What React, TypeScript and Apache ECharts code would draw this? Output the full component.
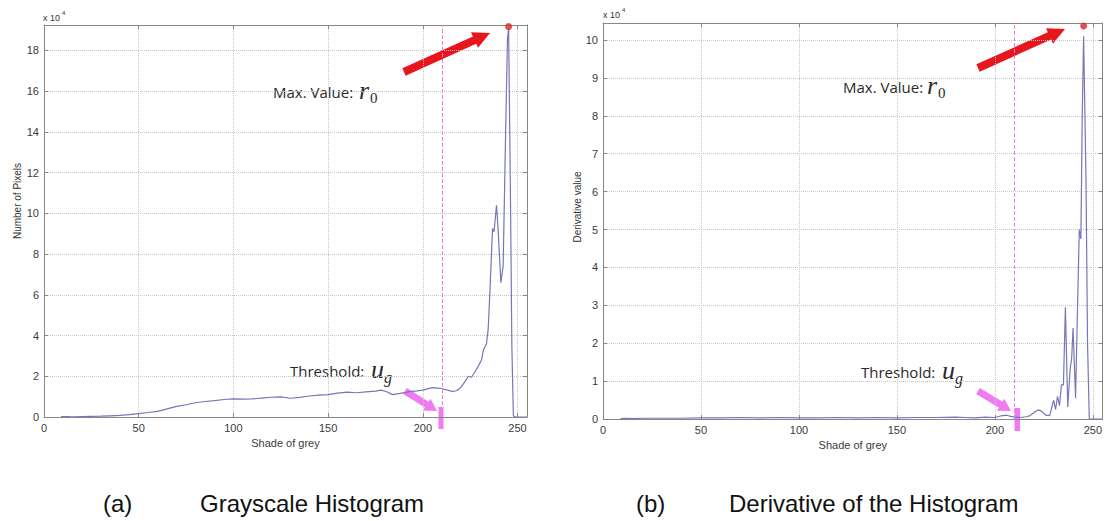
import React, { useEffect, useRef } from "react";
import * as echarts from "echarts";

// ---------- data (y values in units of 10^4) ----------
const histShade = [9, 10, 13, 14, 16, 20, 25, 30, 35, 40, 45, 50, 55, 60, 65, 70, 75, 80, 85, 90, 95, 100, 105, 110, 115, 120, 125, 130, 135, 140, 145, 150, 155, 160, 165, 170, 175, 178, 181, 184, 188, 193, 197, 200, 205, 208, 210, 213, 216, 218, 220, 222, 224, 225.7, 227, 229, 231, 232, 233.6, 234.5, 235.4, 236.8, 237.6, 238.9, 239.7, 241.2, 242.4, 243.6, 244.7, 245.3, 246.3, 247, 247.8, 249, 255];
const histCount = [0.02, 0.02, 0.02, 0.01, 0.01, 0.02, 0.03, 0.04, 0.06, 0.08, 0.12, 0.17, 0.22, 0.28, 0.4, 0.52, 0.6, 0.7, 0.76, 0.8, 0.86, 0.89, 0.88, 0.89, 0.93, 0.97, 0.99, 0.92, 0.96, 1.03, 1.07, 1.1, 1.17, 1.22, 1.19, 1.23, 1.27, 1.32, 1.24, 1.1, 1.16, 1.25, 1.28, 1.32, 1.44, 1.42, 1.4, 1.32, 1.25, 1.3, 1.45, 1.7, 2.0, 1.95, 2.15, 2.45, 2.8, 3.3, 3.6, 4.3, 6.1, 9.26, 9.1, 10.4, 9.3, 6.6, 7.4, 13.4, 18.6, 19.07, 10.5, 3.5, 0.05, 0, 0];

const derivShade = [9, 12, 15, 20, 30, 40, 50, 60, 70, 80, 90, 100, 110, 120, 130, 140, 150, 160, 170, 180, 185, 190, 195, 200, 203, 206, 208, 210, 213, 216, 218, 220, 222, 224, 226, 228, 229, 230, 231, 232, 233, 234, 235, 236, 237.2, 238.4, 239.2, 239.9, 241.2, 242, 243.1, 243.9, 244.6, 245.3, 246.5, 247.3, 248.2, 255];
const derivValue = [0.01, 0.02, 0.01, 0.02, 0.02, 0.02, 0.03, 0.03, 0.04, 0.03, 0.04, 0.03, 0.03, 0.04, 0.03, 0.04, 0.03, 0.04, 0.04, 0.05, 0.04, 0.03, 0.05, 0.04, 0.08, 0.1, 0.07, 0.05, 0.04, 0.06, 0.09, 0.17, 0.24, 0.2, 0.1, 0.09, 0.3, 0.5, 0.25, 0.6, 0.35, 0.9, 0.9, 2.95, 0.32, 1.3, 1.6, 2.4, 0.55, 2.5, 5.0, 4.75, 8.0, 10.1, 6.4, 2.0, 0, 0];

const histMax = [245.3, 19.17];
const derivMax = [245.3, 10.37];
const threshold = 210;

const xTickInterval = 50;
const histYInterval = 2;
const derivYInterval = 1;

const SANS = "'Liberation Sans', Arial, sans-serif";
const NOTE = "'Open Sans', 'Noto Sans', sans-serif";
const MATH = "'Liberation Serif', 'DejaVu Serif', serif";

const LINE_COLOR = "#7676b8";
const BORDER = "#878787";
const PINK = "#f07af0";
const RED = "#e8161c";

function zip(a: number[], b: number[]) {
  return a.map((v, i) => [v, b[i]]);
}

function arrowPts(tx: number, ty: number, hx: number, hy: number, sw: number, hw: number, hl: number) {
  const dx = hx - tx, dy = hy - ty;
  const L = Math.hypot(dx, dy);
  const ux = dx / L, uy = dy / L;
  const nx = -uy, ny = ux;
  const bx = hx - ux * hl, by = hy - uy * hl;
  return [
    [tx + (nx * sw) / 2, ty + (ny * sw) / 2],
    [bx + (nx * sw) / 2, by + (ny * sw) / 2],
    [bx + (nx * hw) / 2, by + (ny * hw) / 2],
    [hx, hy],
    [bx - (nx * hw) / 2, by - (ny * hw) / 2],
    [bx - (nx * sw) / 2, by - (ny * sw) / 2],
    [tx - (nx * sw) / 2, ty - (ny * sw) / 2],
  ];
}

function txt(x: number, y: number, text: string, fontSize: number, fontFamily: string, extra: any = {}) {
  return {
    type: "text",
    x,
    y,
    silent: true,
    ...(extra.rotation !== undefined ? { rotation: extra.rotation } : {}),
    style: {
      text,
      fontSize,
      fontFamily,
      fontStyle: extra.italic ? "italic" : "normal",
      fill: extra.fill || "#333",
      align: extra.align || "left",
      verticalAlign: "middle",
    },
  };
}

function makeAxes(gridIndex: number, yMax: number, yInt: number) {
  const axisLine = { show: true, onZero: false, lineStyle: { color: BORDER, width: 1 } };
  const tick = { show: true, inside: true, length: 4, lineStyle: { color: BORDER } };
  const split = { show: true, lineStyle: { type: "dotted", color: "#c6c6c6", width: 1 } };
  const label = { color: "#3a3a3a", fontSize: 11, fontFamily: SANS, margin: 5, showMaxLabel: false };
  const x = [
    {
      type: "value", gridIndex, min: 0, max: 255, interval: xTickInterval, position: "bottom",
      name: "Shade of grey", nameLocation: "middle", nameGap: 18,
      nameTextStyle: { color: "#3a3a3a", fontSize: 11, fontFamily: SANS },
      axisLine, axisTick: tick, axisLabel: label, splitLine: split,
    },
    {
      type: "value", gridIndex, min: 0, max: 255, interval: xTickInterval, position: "top",
      axisLine, axisTick: tick, axisLabel: { show: false }, splitLine: { show: false },
    },
  ];
  const y = [
    {
      type: "value", gridIndex, min: 0, max: yMax, interval: yInt, position: "left",
      axisLine, axisTick: tick, axisLabel: label, splitLine: split,
    },
    {
      type: "value", gridIndex, min: 0, max: yMax, interval: yInt, position: "right",
      axisLine, axisTick: tick, axisLabel: { show: false }, splitLine: { show: false },
    },
  ];
  return { x, y };
}

export default function App() {
  const ref = useRef<HTMLDivElement>(null);
  useEffect(() => {
    document.body.style.margin = "0";
    if (!ref.current) return;
    const chart = echarts.init(ref.current, undefined, { renderer: "svg" });
    const a = makeAxes(0, 19.25, histYInterval);
    const b = makeAxes(1, 10.45, derivYInterval);

    const thresholdLine = {
      silent: true,
      symbol: "none",
      label: { show: false },
      lineStyle: { color: PINK, type: "dashed", width: 1 },
      data: [{ xAxis: threshold }],
    };

    const ink = "#2a2a2a";
    const graphic: any[] = [
      // y axis names
      txt(17, 201, "Number of Pixels", 10, SANS, { align: "center", rotation: Math.PI / 2 }),
      txt(577, 207, "Derivative value", 10, SANS, { align: "center", rotation: Math.PI / 2 }),
      // exponent labels
      txt(43, 18, "x 10", 9, SANS),
      txt(62, 13, "4", 6, SANS),
      txt(603, 15, "x 10", 9, SANS),
      txt(622, 10, "4", 6, SANS),
      // left annotations
      txt(273, 92, "Max. Value:", 15, NOTE, { fill: ink }),
      txt(359, 90, "r", 26, MATH, { italic: true, fill: ink }),
      txt(370, 98, "0", 15, MATH, { fill: ink }),
      txt(290, 371, "Threshold:", 15, NOTE, { fill: ink }),
      txt(371, 369, "u", 26, MATH, { italic: true, fill: ink }),
      txt(384, 377, "g", 16, MATH, { italic: true, fill: ink }),
      // right annotations
      txt(843, 87, "Max. Value:", 15, NOTE, { fill: ink }),
      txt(927, 85, "r", 26, MATH, { italic: true, fill: ink }),
      txt(938, 93, "0", 15, MATH, { fill: ink }),
      txt(861, 372, "Threshold:", 15, NOTE, { fill: ink }),
      txt(942, 370, "u", 26, MATH, { italic: true, fill: ink }),
      txt(955, 378, "g", 16, MATH, { italic: true, fill: ink }),
      // arrows
      { type: "polygon", silent: true, shape: { points: arrowPts(404, 72, 490, 33, 8, 17, 17) }, style: { fill: RED } },
      { type: "polygon", silent: true, shape: { points: arrowPts(978, 68, 1065, 29, 8, 17, 17) }, style: { fill: RED } },
      { type: "polygon", silent: true, shape: { points: arrowPts(405, 391, 437, 411, 7, 14, 12) }, style: { fill: PINK } },
      { type: "polygon", silent: true, shape: { points: arrowPts(978, 391, 1011, 411, 7, 14, 12) }, style: { fill: PINK } },
      // threshold bars
      { type: "rect", silent: true, shape: { x: 438.5, y: 407, width: 5, height: 22 }, style: { fill: PINK } },
      { type: "rect", silent: true, shape: { x: 1014.5, y: 408, width: 5.5, height: 23 }, style: { fill: PINK } },
      // captions
      txt(103, 503, "(a)", 24, SANS, { fill: "#111" }),
      txt(200, 503, "Grayscale Histogram", 24, SANS, { fill: "#111" }),
      txt(636, 503, "(b)", 24, SANS, { fill: "#111" }),
      txt(729, 503, "Derivative of the Histogram", 24, SANS, { fill: "#111" }),
    ];

    chart.setOption({
      animation: false,
      backgroundColor: "#ffffff",
      grid: [
        { left: 44, top: 25, width: 483, height: 392 },
        { left: 603, top: 23, width: 502, height: 396 },
      ],
      xAxis: [...a.x, ...b.x],
      yAxis: [...a.y, ...b.y],
      series: [
        {
          type: "line", xAxisIndex: 0, yAxisIndex: 0, data: zip(histShade, histCount),
          showSymbol: false, symbol: "none", lineStyle: { color: LINE_COLOR, width: 1.2 },
          markLine: thresholdLine, z: 3,
        },
        {
          type: "scatter", xAxisIndex: 0, yAxisIndex: 0, data: [histMax],
          symbolSize: 7, itemStyle: { color: "#d8262a" }, z: 5,
        },
        {
          type: "line", xAxisIndex: 2, yAxisIndex: 2, data: zip(derivShade, derivValue),
          showSymbol: false, symbol: "none", lineStyle: { color: LINE_COLOR, width: 1.2 },
          markLine: thresholdLine, z: 3,
        },
        {
          type: "scatter", xAxisIndex: 2, yAxisIndex: 2, data: [derivMax],
          symbolSize: 7, itemStyle: { color: "#d8262a" }, z: 5,
        },
      ],
      graphic,
    });
    return () => chart.dispose();
  }, []);
  return <div ref={ref} style={{ width: 1105, height: 521 }} />;
}
